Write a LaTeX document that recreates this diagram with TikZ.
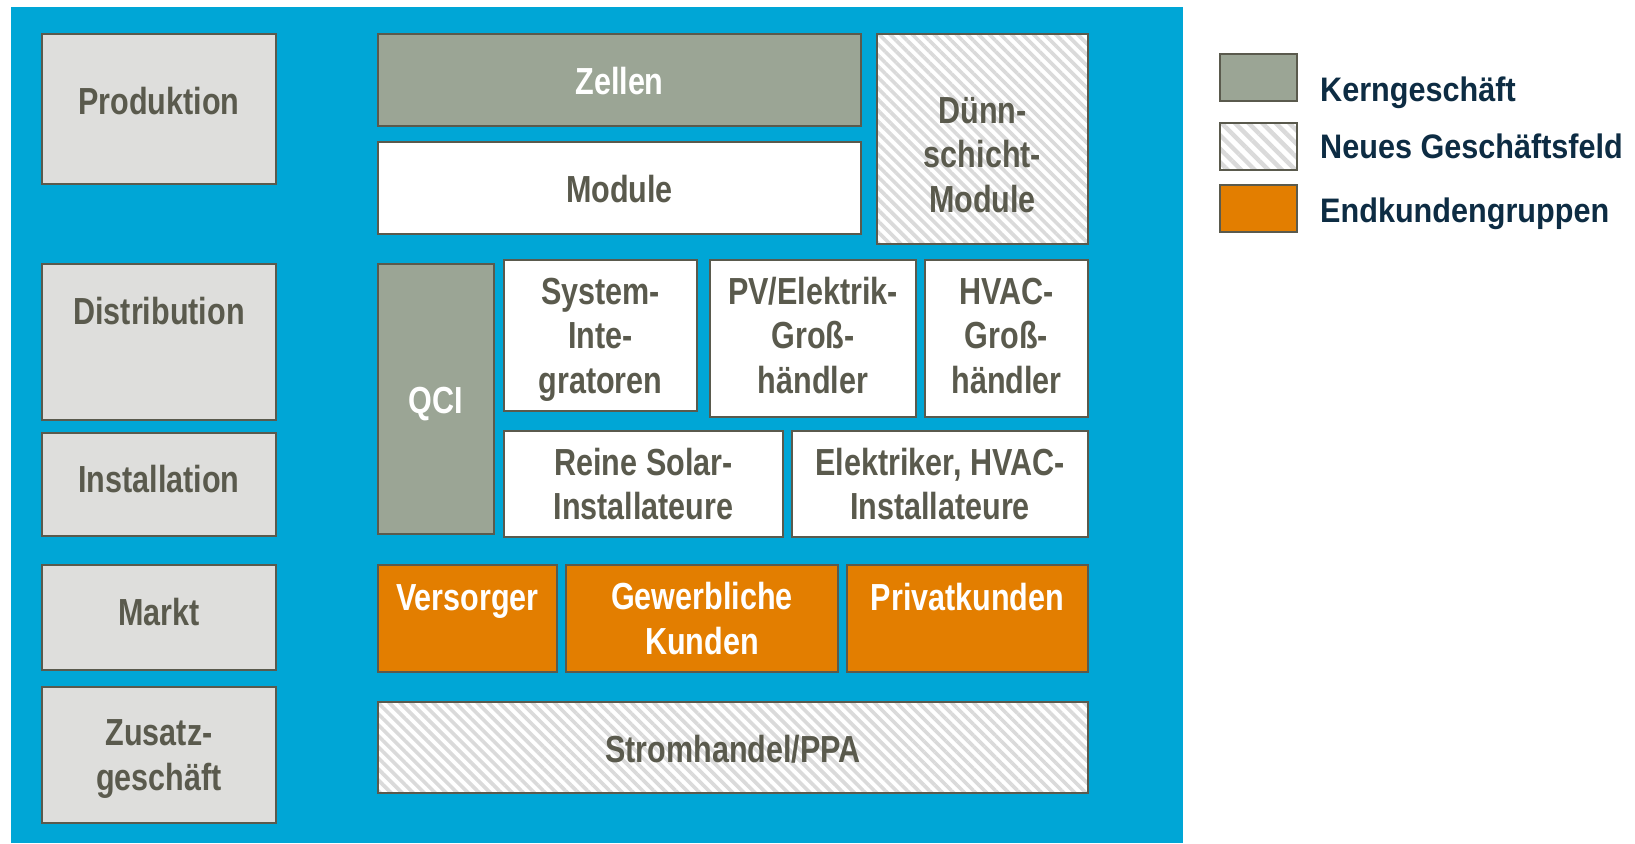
\documentclass[tikz,border=0pt]{standalone}
\usepackage{fontspec}
\newfontfamily\dfont[FakeStretch=0.81]{Liberation Sans}
\newfontfamily\lfont[FakeStretch=0.9]{Liberation Sans}
\usetikzlibrary{patterns.meta}
\definecolor{bgblue}{HTML}{00A6D6}
\definecolor{dk}{HTML}{5A5A4D}
\definecolor{lgray}{HTML}{DEDEDC}
\definecolor{core}{HTML}{9BA595}
\definecolor{orng}{HTML}{E37E00}
\definecolor{navy}{HTML}{0D2C43}
\definecolor{hatchgray}{HTML}{DADADA}
\newcommand\bx[6]{\node[#2,minimum width={#5-#3-2},minimum height={#6-#4-2}] (#1) at ({(#3+#5)/2},{(#4+#6)/2}) {};}
\begin{document}
\begin{tikzpicture}[x=1pt,y=-1pt,
 box/.style={draw=dk,line width=2pt,inner sep=0pt,outer sep=0pt,rectangle},
 stage/.style={box,fill=lgray},
 corebox/.style={box,fill=core},
 plain/.style={box,fill=white},
 hatch/.style={box,preaction={fill=white},pattern={Lines[angle=-45,distance=7.8pt,line width=3.6pt]},pattern color=hatchgray},
 lhatch/.style={box,preaction={fill=white},pattern={Lines[angle=-45,distance=9.6pt,line width=4.4pt]},pattern color=hatchgray},
 cust/.style={box,fill=orng},
 lbl/.style={font=\dfont\bfseries\fontsize{37.7}{44.5}\selectfont,text=dk,align=center,anchor=base,inner sep=0pt},
 wlbl/.style={lbl,text=white},
 leg/.style={font=\lfont\bfseries\fontsize{34}{40}\selectfont,text=navy,anchor=base west,inner sep=0pt}]
\useasboundingbox (0,0) rectangle (1635,843);
\fill[white] (0,0) rectangle (1635,843);
\fill[bgblue] (11,7) rectangle (1183,843);
% stage column
\bx{prod}{stage}{41}{33}{277}{185}
\bx{dist}{stage}{41}{263}{277}{421}
\bx{inst}{stage}{41}{432}{277}{537}
\bx{markt}{stage}{41}{564}{277}{671}
\bx{zus}{stage}{41}{686}{277}{824}
% production
\bx{zellen}{corebox}{377}{33}{862}{127}
\bx{module}{plain}{377}{141}{862}{235}
\bx{duenn}{hatch}{876}{33}{1089}{245}
% distribution / installation
\bx{qci}{corebox}{377}{263}{495}{535}
\bx{sysint}{plain}{503}{259}{698}{412}
\bx{pv}{plain}{709}{259}{917}{418}
\bx{hvac}{plain}{924}{259}{1089}{418}
\bx{reine}{plain}{503}{430}{784}{538}
\bx{elek}{plain}{791}{430}{1089}{538}
% market
\bx{vers}{cust}{377}{564}{558}{673}
\bx{gew}{cust}{565}{564}{839}{673}
\bx{priv}{cust}{846}{564}{1089}{673}
\bx{strom}{hatch}{377}{701}{1089}{794}
% legend
\bx{lkern}{corebox}{1219}{53}{1298}{102}
\bx{lneu}{lhatch}{1219}{122}{1298}{171}
\bx{lend}{cust}{1219}{184}{1298}{233}
% labels (anchor base = baseline of last line)
\node[lbl] (tprod) at (159,114) {Produktion};
\node[lbl] (tdist) at (159,324) {Distribution};
\node[lbl] (tinst) at (159,492) {Installation};
\node[lbl] (tmarkt) at (159,625) {Markt};
\node[lbl] (tzus) at (159,790) {Zusatz-\\geschäft};
\node[wlbl] (tzellen) at (619.5,94) {Zellen};
\node[lbl] (tmodule) at (619.5,202) {Module};
\node[lbl] (tduenn) at (982.5,212) {Dünn-\\schicht-\\Module};
\node[wlbl] (tqci) at (436,413) {QCI};
\node[lbl] (tsysint) at (600.5,393) {System-\\Inte-\\gratoren};
\node[lbl] (tpv) at (813,393) {PV/Elektrik-\\Groß-\\händler};
\node[lbl] (thvac) at (1006.5,393) {HVAC-\\Groß-\\händler};
\node[lbl] (treine) at (643.5,519.5) {Reine Solar-\\Installateure};
\node[lbl] (telek) at (940,519.5) {Elektriker, HVAC-\\Installateure};
\node[wlbl] (tvers) at (467.5,610) {Versorger};
\node[wlbl] (tgew) at (702,654) {Gewerbliche\\Kunden};
\node[wlbl] (tpriv) at (967.5,610) {Privatkunden};
\node[lbl] (tstrom) at (733,762) {Stromhandel/PPA};
\node[leg] (tkern) at (1320,101) {Kerngeschäft};
\node[leg] (tneu) at (1320,158) {Neues Geschäftsfeld};
\node[leg] (tend) at (1320,222) {Endkundengruppen};
\end{tikzpicture}
\end{document}
